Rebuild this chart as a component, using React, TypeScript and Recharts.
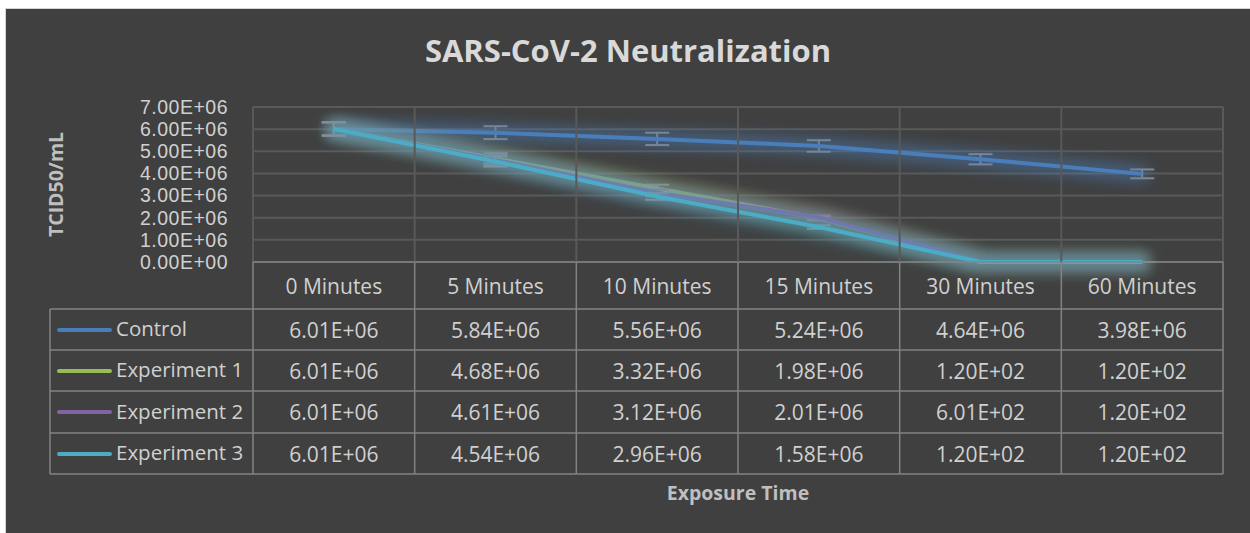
import React from 'react';
import { LineChart, Line, XAxis, YAxis, CartesianGrid, ErrorBar, Legend } from 'recharts';

// ---------- data ----------
const categories = ['0 Minutes', '5 Minutes', '10 Minutes', '15 Minutes', '30 Minutes', '60 Minutes'];
const seriesNames = ['Control', 'Experiment 1', 'Experiment 2', 'Experiment 3'];
const seriesKeys = ['control', 'exp1', 'exp2', 'exp3'];
const seriesColors = ['#4a7ebb', '#9bbb59', '#8064a2', '#4bacc6'];

const control = [6.01e6, 5.84e6, 5.56e6, 5.24e6, 4.64e6, 3.98e6];
const experiment1 = [6.01e6, 4.68e6, 3.32e6, 1.98e6, 1.2e2, 1.2e2];
const experiment2 = [6.01e6, 4.61e6, 3.12e6, 2.01e6, 6.01e2, 1.2e2];
const experiment3 = [6.01e6, 4.54e6, 2.96e6, 1.58e6, 1.2e2, 1.2e2];

const controlErr = [0.3e6, 0.29e6, 0.28e6, 0.26e6, 0.23e6, 0.2e6];
const experiment1Err = [0.3e6, 0.23e6, 0.17e6, 0.1e6, 6, 6];
const experiment2Err = [0.3e6, 0.23e6, 0.16e6, 0.1e6, 30, 6];
const experiment3Err = [0.3e6, 0.23e6, 0.15e6, 0.08e6, 6, 6];

const yTicks = [0, 1e6, 2e6, 3e6, 4e6, 5e6, 6e6, 7e6];

const seriesValues = [control, experiment1, experiment2, experiment3];
const seriesErrors = [controlErr, experiment1Err, experiment2Err, experiment3Err];

const data = categories.map((c, i) => {
  const row: any = { cat: c };
  seriesKeys.forEach((k, s) => {
    row[k] = seriesValues[s][i];
    row[k + 'Err'] = seriesErrors[s][i];
  });
  return row;
});

// ---------- layout ----------
const W = 1244;
const H = 524;
const PLOT_LEFT = 247;
const PLOT_RIGHT = 1217;
const PLOT_TOP = 98;
const PLOT_BOTTOM = 253;
const BW = (PLOT_RIGHT - PLOT_LEFT) / categories.length;
const ROW_Y = [253, 300, 341, 382, 424, 465];
const LEG_LEFT = 44;

const FONT = '"Open Sans", "Noto Sans", sans-serif';
const TICK_FONT = '"Liberation Sans", Arial, sans-serif';
const TEXT = '#d0d0d0';
const GRID = '#595959';
const TABLE = '#838383';
const TABLE_FS = 21;

const fmt = (v: number) => {
  const [m, e] = v.toExponential(2).split('e');
  const sign = e[0] === '-' ? '-' : '+';
  const d = e.replace(/[+-]/, '');
  return `${m}E${sign}${d.padStart(2, '0')}`;
};

const TableTick = (props: any) => {
  const { x, payload } = props;
  const i = payload.index;
  const L = x - BW / 2;
  const R = x + BW / 2;
  const last = i === categories.length - 1;
  const els: any[] = [];
  const vx = [L, ...(last ? [R] : [])];
  vx.forEach((vv, k) => {
    els.push(<line key={'g' + k} x1={vv} x2={vv} y1={PLOT_TOP} y2={PLOT_BOTTOM} stroke={GRID} strokeWidth={2} />);
    els.push(<line key={'t' + k} x1={vv} x2={vv} y1={ROW_Y[0]} y2={ROW_Y[5]} stroke={TABLE} strokeWidth={1.5} />);
  });
  ROW_Y.forEach((ry, k) => {
    els.push(<line key={'h' + k} x1={L} x2={R} y1={ry} y2={ry} stroke={TABLE} strokeWidth={1.5} />);
  });
  els.push(
    <text key="hdr" x={x} y={(ROW_Y[0] + ROW_Y[1]) / 2 + 1} dy="0.355em" textAnchor="middle" fill={TEXT} fontSize={TABLE_FS} fontFamily={FONT}>
      {payload.value}
    </text>
  );
  seriesValues.forEach((vals, s) => {
    els.push(
      <text key={'v' + s} x={x} y={(ROW_Y[s + 1] + ROW_Y[s + 2]) / 2 + 1} dy="0.355em" textAnchor="middle" fill={TEXT} fontSize={TABLE_FS} fontFamily={FONT}>
        {fmt(vals[i])}
      </text>
    );
  });
  if (i === 0) {
    ROW_Y.slice(1).forEach((ry, k) => {
      els.push(<line key={'lh' + k} x1={LEG_LEFT} x2={L} y1={ry} y2={ry} stroke={TABLE} strokeWidth={1.5} />);
    });
    els.push(<line key="lv" x1={LEG_LEFT} x2={LEG_LEFT} y1={ROW_Y[1]} y2={ROW_Y[5]} stroke={TABLE} strokeWidth={1.5} />);
  }
  return <g>{els}</g>;
};

const LegendContent = (props: any) => {
  const payload = props.payload || [];
  return (
    <div style={{ position: 'relative', width: 0, height: 0 }}>
      {payload.map((p: any, s: number) => {
        const top = ROW_Y[s + 1] - ROW_Y[1];
        const h = ROW_Y[s + 2] - ROW_Y[s + 1];
        return (
          <div
            key={p.value}
            style={{
              position: 'absolute',
              left: 0,
              top,
              height: h,
              width: PLOT_LEFT - LEG_LEFT,
              display: 'flex',
              alignItems: 'center',
              whiteSpace: 'nowrap',
            }}
          >
            <div style={{ marginLeft: 7, width: 55, height: 4, borderRadius: 2, background: p.color }} />
            <span style={{ marginLeft: 4, color: TEXT, fontSize: 20.5, fontFamily: FONT, lineHeight: 1, position: 'relative', top: -1 }}>
              {p.value}
            </span>
          </div>
        );
      })}
    </div>
  );
};

export default function App() {
  return (
    <div style={{ position: 'absolute', left: 0, top: 0, width: 1250, height: 533, background: '#ffffff', overflow: 'hidden' }}>
      <div
        style={{
          position: 'absolute',
          left: 5,
          top: 8,
          width: 1245,
          height: 525,
          boxSizing: 'border-box',
          borderLeft: '1px solid #d4d4d4',
          borderTop: '1px solid #d4d4d4',
          background: '#404040',
        }}
      >
        <div
          style={{
            position: 'absolute',
            left: 0,
            top: 26,
            width: W,
            textAlign: 'center',
            color: '#d9d9d9',
            fontFamily: FONT,
            fontWeight: 700,
            fontSize: 31,
            lineHeight: 1,
            whiteSpace: 'nowrap',
          }}
        >
          SARS-CoV-2 Neutralization
        </div>
        <LineChart width={W} height={H} data={data} margin={{ top: PLOT_TOP, right: W - PLOT_RIGHT, left: 0, bottom: 0 }}>
          <defs>
            <filter id="glow" filterUnits="userSpaceOnUse" x="0" y="0" width={W} height={H}>
              <feMorphology in="SourceGraphic" operator="dilate" radius="6" result="d" />
              <feGaussianBlur in="d" stdDeviation="7" result="b" />
              <feComponentTransfer in="b" result="bt">
                <feFuncA type="linear" slope="0.5" />
              </feComponentTransfer>
              <feMerge>
                <feMergeNode in="bt" />
                <feMergeNode in="SourceGraphic" />
              </feMerge>
            </filter>
          </defs>
          <CartesianGrid vertical={false} stroke={GRID} strokeWidth={2} horizontalValues={yTicks} />
          <XAxis
            dataKey="cat"
            axisLine={false}
            tickLine={false}
            interval={0}
            height={H - PLOT_BOTTOM}
            padding={{ left: BW / 2, right: BW / 2 }}
            tick={<TableTick />}
            label={(p: any) => (
              <text
                x={PLOT_LEFT + (PLOT_RIGHT - PLOT_LEFT) / 2}
                y={491}
                textAnchor="middle"
                fill="#bfbfbf"
                fontWeight={700}
                fontSize={19.5}
                fontFamily={FONT}
              >
                Exposure Time
              </text>
            )}
          />
          <YAxis
            width={PLOT_LEFT}
            domain={[0, 7e6]}
            ticks={yTicks}
            interval={0}
            axisLine={false}
            tickLine={false}
            tickSize={0}
            tickMargin={25}
            tickFormatter={fmt}
            tick={{ fill: TEXT, fontSize: 19.5, letterSpacing: 0.5, fontFamily: TICK_FONT }}
            label={(p: any) => (
              <text
                x={0}
                y={0}
                transform={`translate(49, ${(PLOT_TOP + PLOT_BOTTOM) / 2}) rotate(-90)`}
                textAnchor="middle"
                dominantBaseline="central"
                fill="#bfbfbf"
                fontWeight={700}
                fontSize={19.5}
                fontFamily={FONT}
              >
                TCID50/mL
              </text>
            )}
          />
          <Legend
            layout="horizontal"
            align="center"
            verticalAlign="middle"
            content={<LegendContent />}
            wrapperStyle={{ left: LEG_LEFT, top: ROW_Y[1], width: 0, height: 0 }}
          />
          {seriesKeys.map((k, s) => (
            <Line
              key={k}
              type="linear"
              dataKey={k}
              name={seriesNames[s]}
              stroke={seriesColors[s]}
              strokeWidth={4}
              dot={false}
              activeDot={false}
              filter="url(#glow)"
              isAnimationActive={false}
            >
              <ErrorBar dataKey={k + 'Err'} width={12} stroke="#8a8a8a" strokeWidth={2} direction="y" />
            </Line>
          ))}
        </LineChart>
      </div>
    </div>
  );
}
